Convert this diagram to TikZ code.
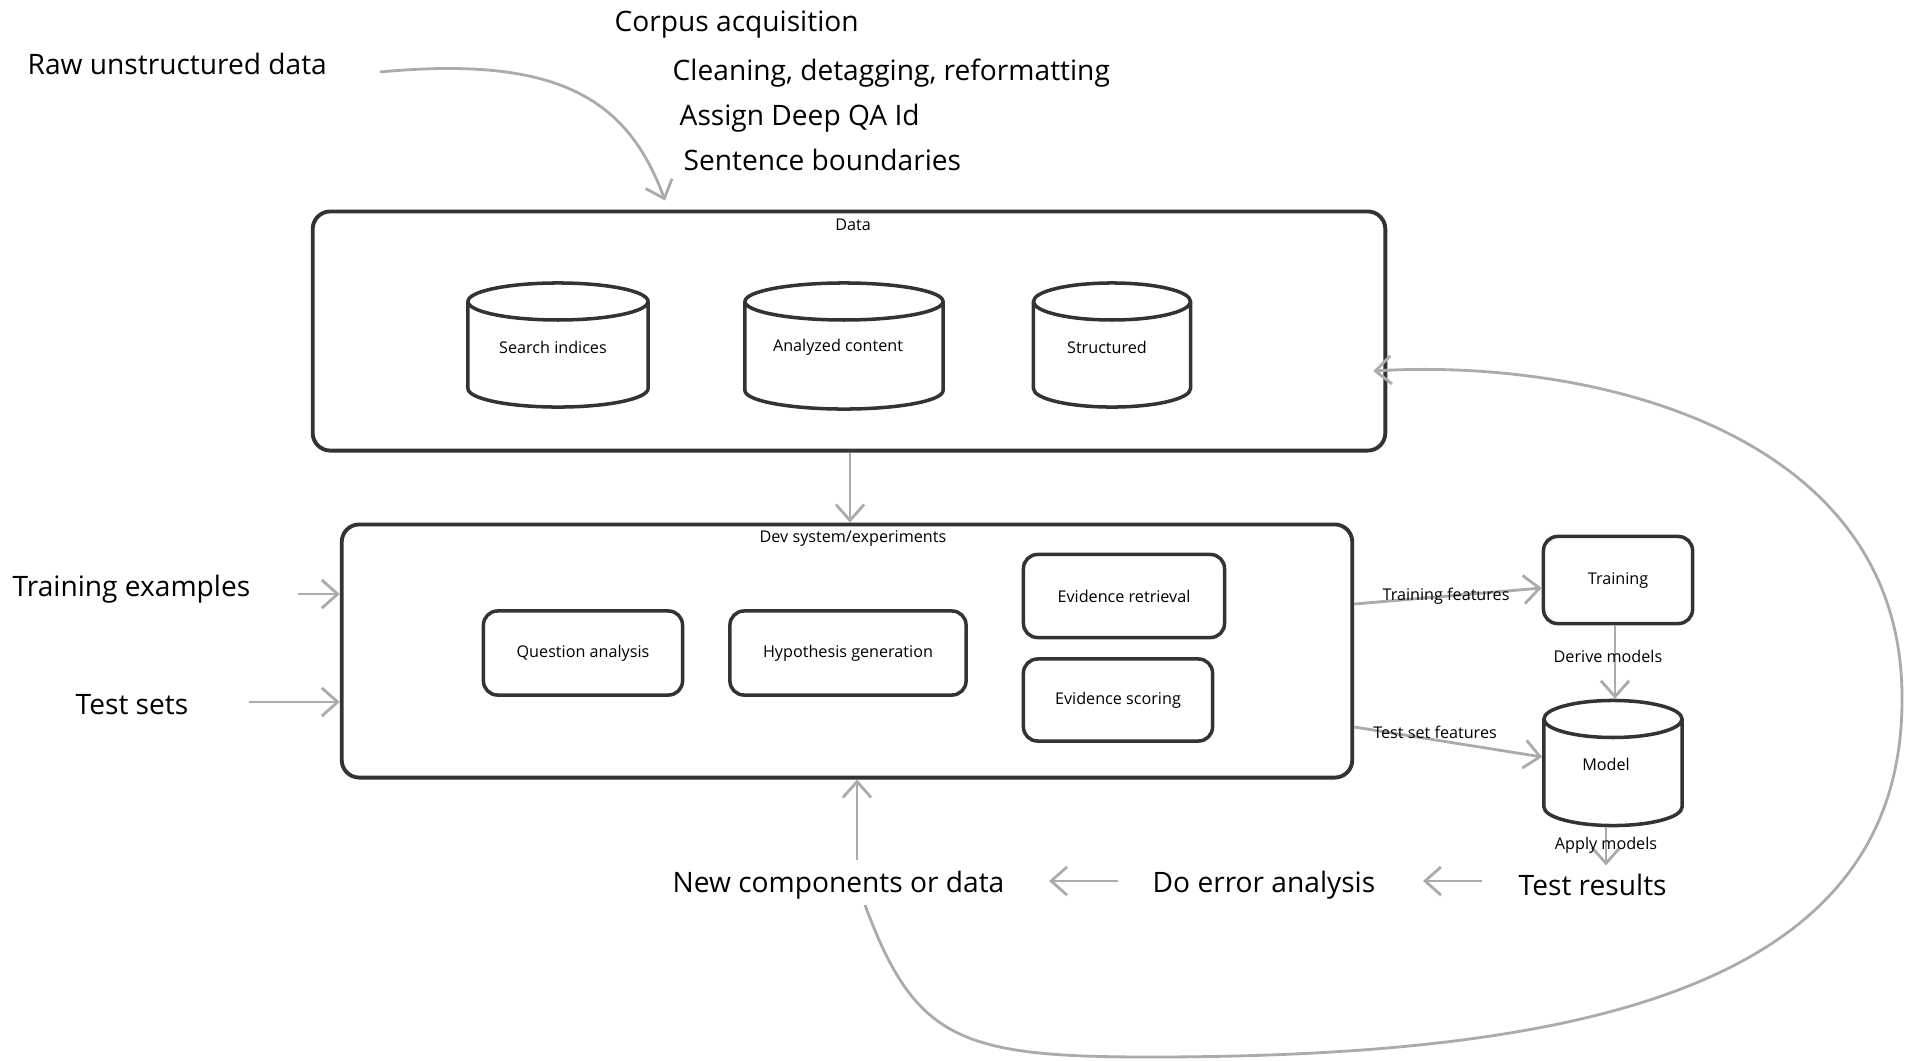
\documentclass[tikz,border=0pt]{standalone}
\usepackage{fontspec}
\setmainfont{Open Sans}
\usetikzlibrary{shapes.geometric,arrows.meta,calc}
\newcommand\bigfnt{\fontsize{8pt}{9.6pt}\selectfont}
\newcommand\smallfnt{\fontsize{4.6pt}{5.5pt}\selectfont}
\newcommand\capwidth{\hspace*{0.74cm}}
\begin{document}
\begin{tikzpicture}[x=0.01cm,y=-0.01cm,
  ink/.style={draw=black!80, line width=1pt},
  container/.style={ink, rounded corners=5pt, line width=1.1pt, fill=white, inner sep=0pt},
  procbox/.style={ink, rounded corners=4pt, fill=white, align=center, font=\smallfnt, inner sep=0pt},
  db/.style={ink, cylinder, shape border rotate=90, aspect=0.5, fill=white, inner sep=0pt, anchor=shape center},
  bigtxt/.style={font=\bigfnt, inner sep=0pt, anchor=west},
  lbl/.style={font=\smallfnt, inner sep=0pt},
  flow/.style={draw=black!33, line width=0.8pt, -{Straight Barb[length=4.5pt,width=8pt]}},
]
\useasboundingbox (0,0) rectangle (1905,1060);

% free-standing texts
\node[bigtxt] (raw) at (27,64) {Raw unstructured data};
\node[bigtxt] (corpus) at (614,25) {Corpus acquisition};
\node[bigtxt] (clean) at (672,73) {Cleaning, detagging, reformatting};
\node[bigtxt] (assign) at (679,118) {Assign Deep QA Id};
\node[bigtxt] (sentence) at (683,160) {Sentence boundaries};
\node[bigtxt] (trainex) at (12,589) {Training examples};
\node[bigtxt] (testsets) at (75,705) {Test sets};
\node[bigtxt] (newcomp) at (672,885) {New components or data};
\node[bigtxt] (errana) at (1152,885) {Do error analysis};
\node[bigtxt] (testres) at (1518,885) {Test results};

% data store container with its three stores
\node[container, minimum width=10.72cm, minimum height=2.39cm] (data) at (849,331) {};
\node[lbl] (dataT) at (853,225) {Data};
\node[db, minimum width=1.80cm, minimum height=1.24cm] (search) at (558,345) {\capwidth};
\node[db, minimum width=1.98cm, minimum height=1.26cm] (analyzed) at (844,346) {\capwidth};
\node[db, minimum width=1.57cm, minimum height=1.24cm] (structured) at (1112,345) {\capwidth};
\node[lbl] (searchT) at (553,347) {Search indices};
\node[lbl] (analyzedT) at (838,347) {Analyzed content};
\node[lbl] (structuredT) at (1107,347) {Structured};

% development system container
\node[container, minimum width=10.10cm, minimum height=2.53cm] (dev) at (847,651) {};
\node[lbl] (devT) at (853,538) {Dev system/experiments};
\node[procbox, minimum width=1.99cm, minimum height=0.84cm] (qa) at (583,653) {Question analysis};
\node[procbox, minimum width=2.36cm, minimum height=0.84cm] (hyp) at (848,653) {Hypothesis generation};
\node[procbox, minimum width=2.01cm, minimum height=0.83cm] (evret) at (1124,596) {Evidence retrieval};
\node[procbox, minimum width=1.89cm, minimum height=0.82cm] (evsc) at (1118,700) {Evidence scoring};

% learning side
\node[procbox, minimum width=1.49cm, minimum height=0.87cm] (training) at (1618,580) {Training};
\node[db, minimum width=1.38cm, minimum height=1.25cm] (model) at (1613,763) {\capwidth};
\node[lbl] (modelT) at (1606,764) {Model};

% free ends of connectors
\coordinate (rawOut) at (380,72);
\coordinate (trainexOut) at (298,594);
\coordinate (testsetsOut) at (249,702);
\coordinate (testresOut) at (1482,881);
\coordinate (erranaOut) at (1118,881);
\coordinate (newcompOut) at (857,860);
\coordinate (loopStart) at (865,905);

% connectors
\draw[flow] (rawOut) .. controls (560,55) and (628,100) .. ([shift={(-184,-9)}]data.north);
\draw[flow] (data.south -| 850,0) -- (dev.north -| 850,0);
\draw[flow] (trainexOut) -- (dev.west |- trainexOut);
\draw[flow] (testsetsOut) -- (dev.west |- testsetsOut);
\draw[flow] (dev.east |- 0,604) -- node[lbl, pos=0.49]{Training features} (training.west |- 0,588);
\draw[flow] (dev.east |- 0,727) -- node[lbl, pos=0.43, above=0pt]{Test set features} (model.west |- 0,757);
\draw[flow] (training.south -| 1615,0) -- node[lbl, pos=0.42, xshift=-2pt]{Derive models} (model.north -| 1615,0);
\draw[flow, shorten >=0.08cm] (model.south -| 1606,0) -- node[lbl, pos=0.4]{Apply models} (testres.north -| 1606,0);
\draw[flow] (testresOut) -- ($(errana.east |- testresOut)+(47,0)$);
\draw[flow] (erranaOut) -- ($(newcomp.east |- erranaOut)+(44,0)$);
\draw[flow] (newcompOut) -- (dev.south -| newcompOut);
\draw[flow] (loopStart) .. controls (915,1040) and (960,1057) .. (1150,1057)
  .. controls (1600,1057) and (1902,980) .. (1902,700)
  .. controls (1904,430) and (1590,358) .. ($(data.east |- 0,371)+(-14,0)$);
\end{tikzpicture}
\end{document}
